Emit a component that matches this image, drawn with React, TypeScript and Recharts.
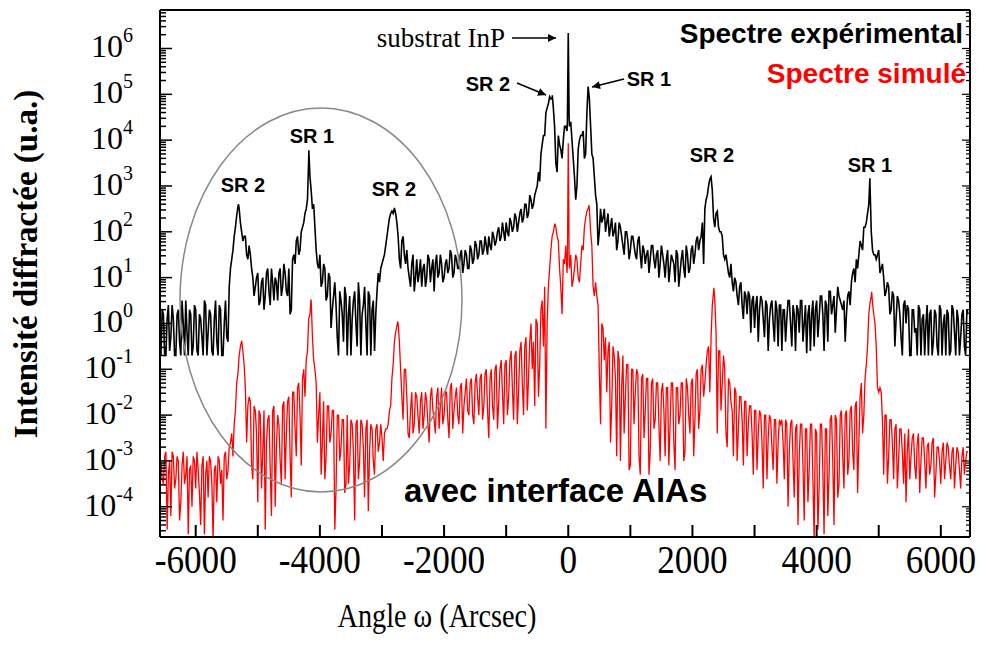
import { Line, LineChart, XAxis, YAxis } from "recharts";

// angles in arcsec. grid values sit at ANGLE_START + i*ANGLE_STEP,
// mid values halfway between them. all values are log10 of the intensity.
const ANGLE_START = -6560;
const ANGLE_STEP = 40;

// black curve, "Spectre expérimental"
const experimentalLog = [
  // -6560 .. -5600
  -0.7, 0.2, -0.7, 0.4, -0.3, 0.1, -0.7, 0.3, -0.7, 0.0, 0.5, -0.7, 0.2, -0.5, 0.3, -0.7, 0.1, -0.7, 0.4, -0.2, 0.2, -0.7, 0.5, -0.7, 0.3,
  // -5560 .. -4600
  -0.7, 0.5, -0.4, 1.2, 1.6, 2.1, 2.55, 2.2, 1.8, 1.9, 1.4, 1.5, 1.0, 0.8, 1.1, 0.5, 1.0, 0.6, 1.2, 0.4, 0.9, 1.0, 0.5, 1.2, 0.8,
  // -4560 .. -3600
  1.1, 0.6, 0.2, 1.4, 1.3, 1.9, 1.6, 2.1, 2.4, 2.7, 3.2, 2.5, 2.1, 1.3, 1.5, 0.9, 1.2, 0.6, 1.0, 0.3, 0.9, -0.3, 0.7, 0.2, 0.8,
  // -3560 .. -2600
  -0.7, 0.6, 0.1, 0.7, -0.5, 0.5, 0.2, 0.8, -0.7, 0.6, 0.3, -0.6, 0.7, 0.9, 1.3, 1.5, 1.9, 2.3, 2.45, 2.52, 2.2, 1.4, 1.8, 1.5, 1.6,
  // -2560 .. -1600
  1.0, 1.3, 0.7, 1.4, 1.1, 0.8, 1.3, 1.0, 1.4, 1.2, 0.7, 1.5, 1.1, 1.3, 1.0, 1.4, 1.2, 1.5, 1.1, 1.4, 1.2, 1.6, 1.3, 1.5, 1.2,
  // -1560 .. -600
  1.6, 1.4, 1.7, 1.5, 1.8, 1.6, 1.7, 1.9, 1.6, 1.9, 1.8, 2.1, 1.9, 2.0, 2.2, 1.9, 2.2, 2.1, 2.3, 2.2, 2.5, 2.3, 2.6, 2.4, 2.7,
  // -560 .. 400
  2.6, 2.9, 3.3, 3.7, 4.1, 4.6, 4.8, 4.9, 4.7, 3.5, 4.1, 3.8, 4.0, 4.3, 6.34, 4.4, 3.6, 2.7, 3.8, 4.1, 4.2, 3.7, 5.17, 4.3, 3.6,
  // 440 .. 1400
  2.8, 1.7, 2.5, 2.3, 2.0, 2.4, 2.1, 1.9, 2.2, 1.8, 2.1, 1.7, 2.0, 1.8, 1.6, 1.9, 1.5, 1.8, 1.5, 1.7, 1.3, 1.6, 1.4, 1.7, 1.2,
  // 1440 .. 2400
  1.6, 1.3, 1.5, 1.0, 1.6, 1.2, 1.4, 0.9, 1.5, 1.1, 1.6, 1.0, 1.5, 1.2, 1.7, 1.5, 1.9, 1.8, 2.2, 2.5, 2.8, 3.15, 2.9, 2.1, 2.45,
  // 2440 .. 3400
  2.0, 1.9, 1.4, 1.3, 1.0, 0.9, 1.0, 0.6, 0.8, 0.4, 0.7, 0.2, 0.6, 0.5, -0.1, 0.6, 0.3, 0.5, -0.3, 0.4, 0.1, 0.5, -0.4, 0.3, 0.4,
  // 3440 .. 4400
  -0.6, 0.3, 0.1, 0.5, -0.5, 0.2, 0.4, -0.2, 0.5, 0.0, -0.65, 0.4, 0.2, -0.5, 0.5, 0.1, 0.6, -0.6, 0.4, 0.7, 0.2, 0.6, 0.3, 0.6, 0.4,
  // 4440 .. 5400
  0.5, 0.2, 0.7, 0.9, 1.2, 1.4, 1.5, 1.7, 2.1, 2.2, 2.6, 2.0, 1.5, 1.4, 1.6, 1.2, 1.0, 0.7, 0.8, 0.3, 0.6, 0.1, 0.5, -0.3, 0.4,
  // 5440 .. 6440
  0.0, 0.3, -0.7, 0.3, -0.1, 0.4, -0.7, 0.2, 0.0, -0.7, 0.3, -0.4, 0.2, -0.7, 0.3, 0.0, -0.7, 0.2, -0.6, 0.3, -0.7, 0.1, -0.3, 0.3, -0.7, 0.2,
];

const experimentalMidLog = [
  // -6540 .. -5580
  0.3, -0.7, 0.1, -0.6, 0.4, -0.7, 0.2, -0.4, 0.5, -0.7, -0.2, 0.3, -0.7, 0.4, -0.6, 0.2, -0.3, 0.5, -0.7, 0.3, -0.6, 0.1, -0.4, 0.4, -0.7,
  // -5540 .. -4580
  0.0, -0.3, 0.8, 1.4, 1.9, 2.35, 2.5, 2.0, 1.9, 1.5, 1.7, 1.2, 0.6, 1.0, 0.4, 0.9, 0.3, 1.1, 0.7, 1.2, 0.5, 0.9, 1.1, 0.6, 1.3,
  // -4540 .. -3580
  0.7, 1.2, 0.3, 1.5, 1.8, 1.5, 2.0, 2.2, 2.5, 3.6, 2.9, 2.6, 1.6, 1.2, 0.8, 1.3, 0.5, 1.1, -0.1, 0.6, 0.4, -0.7, 0.5, -0.4, 0.6,
  // -3540 .. -2580
  0.2, -0.7, 0.5, 0.0, 0.9, -0.7, 0.4, 0.0, 0.7, -0.7, 0.5, 0.2, 1.1, 1.2, 1.4, 1.7, 2.1, 2.4, 2.4, 2.4, 1.9, 1.2, 1.9, 1.3, 1.2,
  // -2540 .. -1580
  0.8, 1.5, 1.0, 0.9, 1.4, 1.2, 0.8, 1.5, 0.9, 1.4, 1.3, 1.0, 1.5, 0.9, 1.3, 1.1, 1.6, 1.0, 1.5, 1.2, 1.5, 1.1, 1.6, 1.2, 1.7,
  // -1540 .. -580
  1.3, 1.8, 1.4, 1.8, 1.5, 1.9, 1.5, 1.7, 2.0, 1.7, 2.0, 1.8, 2.2, 1.8, 2.0, 2.3, 2.0, 2.4, 2.0, 2.4, 2.2, 2.6, 2.3, 2.8, 2.5,
  // -540 .. 420
  2.8, 3.0, 3.1, 3.9, 4.1, 4.7, 4.95, 4.9, 4.3, 3.3, 3.9, 3.6, 4.3, 4.2, 4.3, 4.0, 3.2, 3.0, 4.0, 4.1, 3.6, 4.6, 4.9, 3.7, 3.2,
  // 460 .. 1420
  2.6, 2.0, 2.2, 2.5, 2.2, 1.9, 2.3, 2.0, 1.6, 2.2, 1.9, 1.5, 2.0, 1.4, 1.9, 1.7, 1.4, 1.9, 1.2, 1.6, 1.5, 1.1, 1.7, 1.4, 1.5,
  // 1460 .. 2420
  1.0, 1.7, 1.3, 1.4, 0.9, 1.5, 1.3, 1.6, 0.8, 1.4, 1.2, 1.7, 1.1, 1.6, 1.3, 1.8, 1.6, 1.9, 1.3, 2.7, 3.0, 3.2, 2.3, 2.4, 2.1,
  // 2460 .. 3420
  2.0, 1.5, 1.5, 1.1, 1.3, 0.7, 0.9, 0.4, 0.9, 0.1, 0.6, 0.7, -0.2, 0.6, 0.4, -0.4, 0.6, 0.1, 0.5, -0.6, 0.4, 0.0, 0.5, -0.5, 0.4,
  // 3460 .. 4420
  0.3, -0.4, 0.5, 0.0, 0.4, -0.6, 0.3, 0.5, -0.4, 0.4, 0.2, -0.6, 0.5, 0.3, -0.3, 0.6, 0.2, 0.5, -0.4, 0.7, 0.4, -0.2, 0.8, 0.5, 0.3,
  // 4460 .. 5420
  -0.4, 0.6, 0.4, 1.1, 0.9, 1.2, 1.8, 1.6, 2.1, 2.4, 3.0, 1.6, 1.5, 1.5, 1.1, 1.3, 0.6, 0.9, 0.2, 0.7, -0.5, 0.6, 0.2, -0.7, 0.5,
  // 5460 .. 6420
  0.4, -0.7, 0.3, -0.2, -0.7, 0.3, 0.1, -0.7, 0.4, 0.2, -0.7, 0.3, -0.5, 0.4, -0.7, 0.2, 0.3, -0.7, 0.4, -0.2, 0.3, -0.7, 0.2, -0.5, 0.3,
];

// red curve, "Spectre simulé"
const simulatedLog = [
  // -6560 .. -5600
  -3.0, -3.5, -2.8, -3.3, -4.2, -2.9, -3.4, -3.0, -3.9, -2.8, -3.3, -4.6, -3.1, -2.9, -3.6, -3.2, -4.4, -2.9, -3.3, -3.8, -3.0, -4.7, -3.1, -2.9, -3.5,
  // -5560 .. -4600
  -4.3, -2.8, -3.2, -2.6, -2.9, -1.9, -1.1, -0.5, -0.6, -1.4, -1.8, -1.7, -3.4, -1.9, -3.9, -2.0, -2.8, -4.5, -2.1, -3.2, -1.9, -4.0, -2.0, -3.0, -1.8,
  // -4560 .. -3600
  -3.4, -1.7, -2.9, -1.5, -2.3, -1.4, -2.0, -1.2, -1.6, -0.6, 0.2, -0.3, -1.0, -2.6, -1.5, -2.6, -3.4, -1.8, -2.6, -1.9, -4.5, -2.0, -3.0, -2.1, -3.7,
  // -3560 .. -2600
  -2.0, -3.1, -2.2, -4.3, -2.1, -3.0, -2.2, -3.8, -2.1, -2.8, -2.3, -3.3, -2.2, -2.6, -2.5, -2.4, -2.3, -1.9, -1.2, -0.4, -0.05, -0.4, -1.6, -1.0, -1.6,
  // -2560 .. -1600
  -2.5, -1.5, -2.2, -1.6, -2.4, -1.5, -2.0, -1.7, -2.6, -1.4, -2.1, -1.6, -2.3, -1.4, -2.0, -1.5, -2.5, -1.3, -1.9, -1.4, -2.2, -1.3, -1.8, -1.2, -2.0,
  // -1560 .. -600
  -1.2, -2.2, -1.1, -2.0, -1.1, -1.8, -1.0, -2.5, -1.0, -2.1, -0.9, -1.7, -0.8, -2.2, -0.8, -1.6, -0.6, -2.1, -0.6, -1.5, -0.4, -2.0, -0.3, -1.2, 0.0,
  // -560 .. 400
  -0.4, 0.1, -1.6, 0.3, -0.5, -2.3, 0.8, 1.6, 2.0, 2.1, 1.8, 0.8, 1.4, 1.7, 3.93, 1.5, 0.95, 1.5, 1.0, 1.3, 1.6, 2.3, 2.5, 2.0, 0.8,
  // 440 .. 1400
  0.9, 0.4, -2.2, -0.1, -0.3, -0.6, -2.6, -0.5, -1.2, -0.6, -3.0, -0.7, -1.6, -0.9, -3.1, -1.0, -1.5, -1.1, -3.3, -1.1, -1.9, -1.2, -2.8, -1.2, -2.1,
  // 1440 .. 2400
  -1.3, -3.0, -1.3, -2.9, -1.4, -2.2, -1.3, -3.2, -1.4, -2.0, -1.3, -2.8, -1.4, -2.4, -1.2, -2.1, -1.0, -1.9, -0.9, -1.3, -0.6, -1.5, 0.4, 0.5, -2.4,
  // 2440 .. 3400
  -0.6, -1.3, -1.0, -2.7, -1.3, -1.9, -1.4, -3.0, -1.6, -2.1, -1.7, -2.9, -1.8, -2.4, -1.9, -3.2, -1.9, -2.6, -2.0, -3.4, -2.0, -2.7, -2.1, -3.5, -2.1,
  // 3440 .. 4400
  -2.1, -3.4, -2.2, -2.8, -2.1, -3.8, -2.2, -2.9, -2.2, -4.3, -2.3, -3.2, -2.2, -4.7, -2.4, -3.6, -2.2, -4.6, -2.3, -3.3, -2.0, -4.4, -2.1, -3.5, -1.9,
  // 4440 .. 5400
  -3.6, -1.9, -3.0, -1.8, -3.2, -1.7, -2.6, -1.3, -2.0, -0.9, 0.2, 0.6, 0.2, -0.5, -1.5, -1.5, -3.3, -2.0, -2.9, -2.1, -3.4, -2.2, -3.0, -2.3, -3.5,
  // 5440 .. 6440
  -3.9, -2.3, -2.9, -2.4, -3.4, -2.4, -3.0, -2.5, -3.6, -2.6, -3.1, -2.5, -3.3, -2.7, -3.5, -2.6, -3.0, -2.7, -3.4, -2.7, -3.1, -2.8, -3.6, -2.7, -3.0, -2.8,
];

const simulatedMidLog = [
  // -6540 .. -5580
  -3.4, -2.9, -4.5, -3.0, -2.8, -3.6, -2.9, -4.3, -3.1, -3.5, -2.9, -3.2, -4.0, -3.0, -2.8, -3.7, -3.1, -4.6, -3.0, -2.9, -3.5, -3.2, -3.9, -3.0, -3.2,
  // -5540 .. -4580
  -2.9, -3.4, -2.7, -2.4, -2.2, -1.3, -0.7, -0.38, -0.9, -2.6, -1.6, -3.1, -1.8, -2.4, -1.9, -3.6, -1.9, -2.6, -2.0, -4.2, -1.8, -2.7, -2.2, -3.5, -1.7,
  // -4540 .. -3580
  -2.4, -1.6, -3.8, -1.5, -2.9, -1.3, -3.1, -1.0, -0.8, 0.1, 0.5, -0.8, -1.3, -2.0, -3.3, -1.7, -2.9, -1.8, -2.4, -1.9, -3.6, -2.0, -2.7, -2.1, -3.5,
  // -3540 .. -2580
  -3.5, -2.1, -2.8, -2.2, -3.4, -2.1, -2.7, -2.3, -4.1, -2.2, -3.0, -2.3, -2.8, -2.2, -3.0, -2.3, -2.2, -1.8, -0.9, -0.2, 0.0, -1.0, -2.1, -1.0, -2.4,
  // -2540 .. -1580
  -1.9, -2.4, -1.5, -2.0, -1.7, -2.3, -1.5, -2.2, -1.6, -1.9, -2.4, -1.4, -1.8, -2.2, -1.5, -2.1, -1.4, -2.3, -1.6, -2.0, -1.4, -2.4, -1.5, -1.9, -1.3,
  // -1540 .. -580
  -2.0, -1.3, -1.6, -1.2, -2.1, -1.1, -1.9, -1.2, -1.8, -1.0, -2.3, -1.0, -1.5, -0.9, -2.0, -0.8, -1.4, -0.7, -2.2, -0.6, -1.3, -0.5, -1.9, -0.4, -1.0,
  // -540 .. 420
  -1.8, 0.0, -0.9, 0.5, 0.8, 0.0, 1.2, 1.9, 2.15, 1.9, 1.2, 0.2, 1.3, 1.1, 1.2, 0.8, 1.2, 1.4, 0.9, 1.7, 2.1, 2.45, 2.5, 1.7, 0.6,
  // 460 .. 1420
  0.6, -1.0, 0.0, -0.8, -1.5, -0.4, -1.8, -0.7, -2.9, -0.8, -1.4, -2.4, -0.9, -3.2, -1.0, -2.2, -1.0, -2.9, -1.2, -2.5, -1.2, -3.3, -1.3, -2.3, -1.3,
  // 1460 .. 2420
  -2.2, -1.5, -1.9, -1.4, -3.1, -1.3, -2.6, -1.4, -2.2, -1.3, -3.0, -1.2, -2.0, -1.3, -2.9, -1.1, -2.3, -1.0, -1.6, -0.9, -0.5, -0.3, 0.7, -0.2, -0.6,
  // 2460 .. 3420
  -1.9, -0.7, -2.4, -1.2, -1.7, -2.9, -1.5, -2.3, -1.6, -3.1, -1.7, -2.2, -1.8, -3.3, -1.9, -2.4, -2.0, -3.6, -2.0, -2.5, -2.1, -3.2, -2.1, -2.6, -2.2,
  // 3460 .. 4420
  -2.6, -2.1, -4.0, -2.2, -3.0, -2.3, -4.4, -2.2, -3.1, -2.3, -3.9, -2.2, -3.4, -2.3, -4.5, -2.2, -3.2, -2.3, -4.2, -2.1, -3.0, -2.0, -3.8, -2.0, -2.9,
  // 4460 .. 5420
  -2.0, -3.3, -1.9, -2.8, -1.8, -3.7, -1.6, -2.4, -1.2, -0.5, 0.45, 0.45, 0.0, -1.4, -1.4, -2.1, -2.0, -3.5, -2.1, -2.6, -2.3, -3.6, -2.3, -2.8, -2.4,
  // 5460 .. 6420
  -2.8, -3.4, -2.5, -3.1, -2.6, -3.7, -2.5, -3.0, -2.7, -3.3, -2.6, -3.8, -2.7, -3.0, -2.8, -3.4, -2.6, -3.1, -2.8, -3.6, -2.7, -3.2, -2.9, -3.3, -2.8,
];

// sharp peak tops that fall between grid points: [angle, log10 intensity]
const experimentalPeaks: Array<[number, number]> = [
  [-5310, 2.6],
  [-4178, 3.78],
  [-257, 4.98],
  [-14, 4.4],
  [14, 4.5],
  [4858, 3.17],
];
const simulatedPeaks: Array<[number, number]> = [
  [-5260, -0.38],
  [-4143, 0.52],
  [-2747, 0.04],
  [-214, 2.18],
  [-14, 1.3],
  [14, 1.4],
  [333, 2.58],
  [2346, 0.78],
  [4886, 0.69],
];

const xTicks = [-6000, -5000, -4000, -3000, -2000, -1000, 0, 1000, 2000, 3000, 4000, 5000, 6000];
const decades = [-4, -3, -2, -1, 0, 1, 2, 3, 4, 5, 6];
const X_DOMAIN: [number, number] = [-6575, 6470];
const Y_DOMAIN: [number, number] = [-4.66, 6.84];

const minorTicks: number[] = [];
for (let n = -5; n <= 6; n++) {
  for (let k = 2; k <= 9; k++) {
    const v = n + Math.log10(k);
    if (v > Y_DOMAIN[0] && v < Y_DOMAIN[1]) minorTicks.push(v);
  }
}
const yTicks = [...decades, ...minorTicks].sort((a, b) => a - b);

function buildRows(grid: number[], mid: number[], peaks: Array<[number, number]>) {
  const rows = [
    ...grid.map((value, i) => ({ angle: ANGLE_START + i * ANGLE_STEP, value })),
    ...mid.map((value, i) => ({ angle: ANGLE_START + ANGLE_STEP / 2 + i * ANGLE_STEP, value })),
  ];
  const extra = peaks.map(([angle, value]) => ({ angle, value }));
  return [...rows.filter((r) => !extra.some((e) => e.angle === r.angle)), ...extra].sort(
    (a, b) => a.angle - b.angle,
  );
}

const experimentalRows = buildRows(experimentalLog, experimentalMidLog, experimentalPeaks);
const simulatedRows = buildRows(simulatedLog, simulatedMidLog, simulatedPeaks);

const SERIF = "'Liberation Serif', 'Times New Roman', serif";
const SANS = "'Liberation Sans', Arial, sans-serif";

function LeftTick({ x, y, payload }: any) {
  const v = payload.value as number;
  const major = Number.isInteger(v);
  return (
    <g>
      <line x1={x} y1={y} x2={x + (major ? 12 : 6)} y2={y} stroke="#000" strokeWidth={1.5} />
      {major && (
        <text x={x - 27} y={y + 9} textAnchor="end" fontFamily={SERIF} fontSize={32} fill="#000">
          <tspan>10</tspan>
          <tspan dy={-15} fontSize={20}>
            {v}
          </tspan>
        </text>
      )}
    </g>
  );
}

function RightTick({ x, y, payload }: any) {
  const major = Number.isInteger(payload.value);
  return <line x1={x} y1={y} x2={x - (major ? 8 : 4)} y2={y} stroke="#000" strokeWidth={1.2} />;
}

function BottomTick({ x, y, payload }: any) {
  const v = payload.value as number;
  return (
    <g>
      <line x1={x} y1={y} x2={x} y2={y - 12} stroke="#000" strokeWidth={2} />
      {v % 2000 === 0 && (
        <text
          transform={`translate(${x},${y + 36}) scale(0.88,1)`}
          textAnchor="middle"
          fontFamily={SERIF}
          fontSize={40}
          fill="#000"
        >
          {v}
        </text>
      )}
    </g>
  );
}

function TopTick({ x, y }: any) {
  return <line x1={x} y1={y} x2={x} y2={y + 5} stroke="#000" strokeWidth={1.2} />;
}

function Annotations() {
  const sr = { fontFamily: SANS, fontWeight: 700, fontSize: 20, textAnchor: "middle" as const, fill: "#000" };
  return (
    <svg width={981} height={645} style={{ position: "absolute", left: 0, top: 0, pointerEvents: "none" }}>
      <defs>
        <marker id="head" viewBox="0 0 10 10" refX="10" refY="5" markerWidth="11" markerHeight="8" markerUnits="userSpaceOnUse" orient="auto">
          <path d="M0,0 L10,5 L0,10 z" fill="#000" />
        </marker>
      </defs>
      <ellipse cx={321} cy={300} rx={141} ry={192} fill="none" stroke="#888" strokeWidth={1.5} />

      <text x={505} y={47} textAnchor="end" fontFamily={SERIF} fontSize={27} fill="#000">
        substrat InP
      </text>
      <line x1={512} y1={38} x2={556} y2={38} stroke="#000" strokeWidth={1.5} markerEnd="url(#head)" />

      <text x={488} y={91} {...sr}>SR 2</text>
      <line x1={517} y1={83} x2={546} y2={95} stroke="#000" strokeWidth={1.5} markerEnd="url(#head)" />
      <text x={649} y={86} {...sr}>SR 1</text>
      <line x1={624} y1={79} x2={592} y2={87} stroke="#000" strokeWidth={1.5} markerEnd="url(#head)" />

      <text x={243} y={192} {...sr}>SR 2</text>
      <text x={312} y={143} {...sr}>SR 1</text>
      <text x={394} y={196} {...sr}>SR 2</text>
      <text x={712} y={162} {...sr}>SR 2</text>
      <text x={870} y={172} {...sr}>SR 1</text>

      <text x={963} y={43} textAnchor="end" fontFamily={SANS} fontWeight={700} fontSize={28} fill="#000">
        Spectre expérimental
      </text>
      <text x={966} y={83} textAnchor="end" fontFamily={SANS} fontWeight={700} fontSize={28} fill="#ff0000">
        Spectre simulé
      </text>
      <text x={404} y={502} fontFamily={SANS} fontWeight={700} fontSize={33} fill="#000">
        avec interface AlAs
      </text>

      <text
        x={437}
        y={627}
        textAnchor="middle"
        fontFamily={SERIF}
        fontSize={34}
        textLength={199}
        lengthAdjust="spacingAndGlyphs"
        fill="#000"
      >
        Angle  ω (Arcsec)
      </text>
      <text
        transform="translate(37,264) rotate(-90)"
        textAnchor="middle"
        fontFamily={SERIF}
        fontWeight={700}
        fontSize={33}
        fill="#000"
      >
        Intensité diffractée (u.a.)
      </text>
    </svg>
  );
}

export default function App() {
  return (
    <div style={{ position: "absolute", left: 0, top: 0, width: 981, height: 645, background: "#fff" }}>
      <LineChart width={981} height={645} margin={{ top: 9, right: 10, bottom: 8, left: 10 }}>
        <XAxis
          dataKey="angle"
          type="number"
          domain={X_DOMAIN}
          allowDataOverflow
          ticks={xTicks}
          interval={0}
          tickSize={0}
          tickMargin={0}
          height={100}
          axisLine={{ stroke: "#000", strokeWidth: 2 }}
          tick={<BottomTick />}
        />
        <XAxis
          xAxisId="top"
          orientation="top"
          type="number"
          domain={X_DOMAIN}
          allowDataOverflow
          ticks={xTicks}
          interval={0}
          tickSize={0}
          tickMargin={0}
          height={1}
          axisLine={{ stroke: "#000", strokeWidth: 2 }}
          tick={<TopTick />}
        />
        <YAxis
          type="number"
          domain={Y_DOMAIN}
          allowDataOverflow
          ticks={yTicks}
          interval={0}
          tickSize={0}
          tickMargin={0}
          width={150}
          axisLine={{ stroke: "#000", strokeWidth: 2 }}
          tick={<LeftTick />}
        />
        <YAxis
          yAxisId="right"
          orientation="right"
          type="number"
          domain={Y_DOMAIN}
          allowDataOverflow
          ticks={yTicks}
          interval={0}
          tickSize={0}
          tickMargin={0}
          width={1}
          axisLine={{ stroke: "#000", strokeWidth: 2 }}
          tick={<RightTick />}
        />
        <Line
          data={experimentalRows}
          dataKey="value"
          type="linear"
          stroke="#000"
          strokeWidth={1.6}
          dot={false}
          isAnimationActive={false}
        />
        <Line
          data={simulatedRows}
          dataKey="value"
          type="linear"
          stroke="#ff0000"
          strokeWidth={1.3}
          dot={false}
          isAnimationActive={false}
        />
      </LineChart>
      <Annotations />
    </div>
  );
}
